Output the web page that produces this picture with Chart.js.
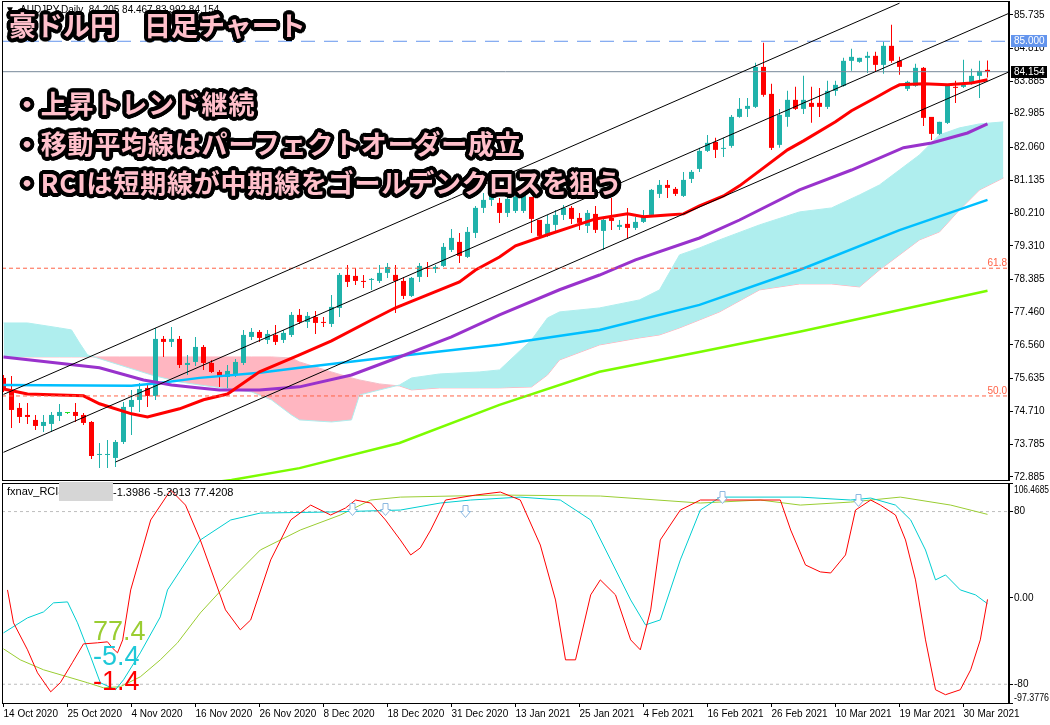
<!DOCTYPE html>
<html lang="ja">
<head>
<meta charset="utf-8">
<title>AUDJPY Daily</title>
<script src="https://cdn.jsdelivr.net/npm/chart.js@4.4.1/dist/chart.umd.min.js"></script>
<style>
  html, body { margin:0; padding:0; background:#fff; }
  body { width:1050px; height:725px; position:relative; overflow:hidden; }
  canvas { position:absolute; left:0; display:block; }
  #mainCanvas { top:0; }
  #rciCanvas { top:481px; }
  .jp { position:absolute; font-family:"Noto Sans CJK JP","Noto Sans CJK SC",sans-serif; font-weight:700; color:#FFC0CB; white-space:nowrap; line-height:1; }
</style>
</head>
<body>
<canvas id="mainCanvas" width="1050" height="481"></canvas>
<canvas id="rciCanvas" width="1050" height="244"></canvas>
<div class="jp" id="t0" style="left:9px;top:11px;font-size:27px;">豪ドル円　日足チャート</div>
<div class="jp" id="t1" style="left:14px;top:90px;font-size:26px;letter-spacing:0.8px;">・上昇トレンド継続</div>
<div class="jp" id="t2" style="left:14px;top:130px;font-size:26px;letter-spacing:0.8px;">・移動平均線はパーフェクトオーダー成立</div>
<div class="jp" id="t3" style="left:14px;top:169px;font-size:26px;letter-spacing:0.8px;">・RCIは短期線が中期線をゴールデンクロスを狙う</div>
<script>
// ---------------- DATA ----------------
const opens = [75.638,75.304,74.804,74.609,74.470,74.303,74.359,74.581,74.664,74.692,
74.609,74.414,73.496,73.496,73.413,73.858,74.832,75.026,75.360,75.137,
76.723,76.640,76.723,75.999,76.083,76.500,76.055,75.805,75.666,75.721,
76.055,76.778,76.917,76.695,76.834,76.695,76.834,77.391,77.196,77.335,
77.196,77.140,77.585,78.503,78.475,78.336,78.364,78.336,78.559,78.503,
78.336,77.919,78.447,78.698,78.670,78.753,79.198,79.421,79.004,79.671,
80.367,80.589,80.506,80.227,80.283,80.283,80.672,80.033,79.588,79.894,
80.171,80.367,80.088,79.866,80.199,79.727,80.088,79.838,79.922,79.810,
79.977,80.171,80.756,81.006,80.895,80.700,81.173,81.451,81.952,82.202,
82.008,82.091,82.897,83.120,83.176,84.288,83.537,82.119,82.897,83.371,
83.120,83.287,83.287,83.176,83.621,83.760,84.456,84.428,84.539,84.595,
84.344,84.873,84.456,83.677,83.760,84.261,82.897,82.425,82.731,83.732,
83.732,83.816,84.038,84.205];
const highs = [75.721,75.694,74.943,74.943,74.609,74.609,74.692,74.915,74.692,74.943,
74.664,74.442,73.830,73.913,73.913,74.970,75.304,75.499,75.499,77.029,
76.806,77.057,76.806,76.278,76.778,76.556,76.139,75.861,75.999,76.166,
76.973,77.029,76.973,76.973,77.112,76.973,77.474,77.557,77.474,77.502,
77.335,77.947,78.559,78.781,78.698,78.503,78.420,78.781,78.837,78.781,
78.447,78.447,78.837,78.865,78.781,79.393,79.783,79.671,79.838,80.422,
80.784,80.951,80.645,80.728,80.728,80.812,80.672,80.033,80.171,80.311,
80.450,80.422,80.227,80.311,80.422,80.116,80.645,80.033,80.367,80.116,
80.311,80.895,81.145,81.145,80.951,81.368,81.423,82.036,82.397,82.314,
82.314,82.953,83.426,83.426,84.400,84.956,83.816,83.120,83.621,83.732,
84.038,83.732,83.704,83.899,83.899,84.539,84.789,84.539,84.706,84.706,
84.984,85.457,84.567,83.900,84.372,84.288,82.897,82.759,83.788,83.899,
84.483,84.233,84.456,84.467];
const lows = [75.249,74.247,74.387,74.359,74.191,74.136,74.136,74.442,74.637,74.414,
74.331,73.385,73.134,73.134,73.162,73.802,74.052,74.692,74.832,75.026,
76.222,76.500,75.916,75.721,75.972,75.861,75.777,75.388,75.360,75.666,
75.999,76.695,76.640,76.584,76.556,76.612,76.778,77.140,77.029,76.862,
77.057,77.057,77.335,78.169,78.225,78.141,78.086,78.280,78.420,77.446,
77.836,77.891,78.308,78.447,78.559,78.725,79.143,78.837,78.976,79.532,
80.227,80.422,79.950,80.116,80.227,80.227,79.671,79.532,79.560,79.671,
80.033,79.922,79.755,79.671,79.671,79.198,79.755,79.755,79.532,79.755,
79.950,80.116,80.645,80.645,80.700,80.672,81.062,81.368,81.924,81.757,
81.785,82.036,82.870,82.897,83.148,83.454,81.980,82.036,82.620,83.092,
82.981,82.731,82.897,83.120,83.482,83.732,84.177,84.400,84.121,84.149,
84.094,84.400,84.066,83.620,83.732,82.647,82.258,82.397,82.703,83.287,
83.704,83.788,83.426,83.992];
const closes = [75.360,74.748,74.553,74.553,74.303,74.414,74.609,74.692,74.664,74.581,
74.387,73.468,73.524,73.524,73.858,74.832,75.026,75.332,75.137,76.723,
76.640,76.723,75.999,76.055,76.500,76.055,75.805,75.694,75.833,76.083,
76.834,76.917,76.751,76.862,76.640,76.890,77.391,77.196,77.363,77.168,
77.168,77.613,78.503,78.308,78.336,78.308,78.392,78.559,78.725,78.336,
77.919,78.420,78.753,78.670,78.725,79.282,79.532,79.032,79.699,80.367,
80.589,80.812,80.227,80.617,80.672,80.700,80.060,79.588,79.922,80.171,
80.367,80.060,79.950,80.227,79.755,80.033,80.005,79.894,79.810,79.977,
80.144,80.867,81.006,80.923,80.756,81.145,81.368,81.952,82.175,81.980,
82.036,82.897,83.120,83.203,84.288,83.510,82.036,82.953,83.371,83.120,
83.371,83.176,83.176,83.621,83.788,84.456,84.567,84.539,84.595,84.344,
84.873,84.456,84.288,83.871,84.261,82.870,82.425,82.759,83.760,83.704,
83.788,84.038,84.177,84.154];

// Moving averages (bar index, price)
const maRedX   = [0,3,10,12,16,18,22,25,28,32,37,41,46,49,53,57,59,62,64,68,71,74,78,80,83,85,87,90,92,95,98,100,104,106,109,111,112,115,118,121,123];
const maRed    = [75.33,75.19,75.14,74.92,74.64,74.55,74.78,75.03,75.19,75.81,76.28,76.67,77.25,77.59,77.95,78.31,78.64,79.00,79.31,79.62,79.84,80.06,80.20,80.12,80.17,80.20,80.42,80.70,80.98,81.48,81.98,82.23,82.76,83.07,83.43,83.68,83.79,83.82,83.79,83.84,83.93];
const maPurpleX = [0,12,17.5,21,24.5,27,32,37,43.5,49.5,56,62,69.5,74.5,79,87,92,99.5,106,112.5,116,120.5,123];
const maPurple  = [76.22,75.92,75.58,75.44,75.36,75.30,75.30,75.39,75.72,76.22,76.78,77.39,78.09,78.50,78.92,79.53,80.03,80.87,81.42,82.04,82.17,82.45,82.70];
const maBlueX = [0,16,19.5,24.5,32,37,49.5,62,74.5,87,99.5,112,123];
const maBlue  = [75.44,75.42,75.50,75.64,75.78,75.92,76.25,76.56,76.97,77.67,78.64,79.75,80.59];
const maGreenX = [25,28.5,37,49.5,62,74.5,87,99.5,112,123];
const maGreen  = [72.70,72.80,73.13,73.83,74.89,75.81,76.36,76.92,77.53,78.06];

// Ichimoku cloud spans (bar index, price)
const cloudX = [0,3,7,8.5,9.5,10.5,14.5,18.5,22,24.5,31,33.5,36,37,41,43.5,44.5,47,49.5,51,54.5,59.5,62,66,68,69.5,74.5,79.5,82,84.5,87,89.5,94.5,99.5,103.5,107,109.5,112,114.5,117,119.5,122,125];
const spanA = [77.167,77.167,77.029,76.973,76.611,76.278,76.000,75.721,75.527,75.443,75.248,75.026,74.609,74.470,74.414,74.470,75.165,75.304,75.443,75.638,75.749,75.805,75.861,76.695,77.307,77.474,77.585,77.808,78.086,79.059,79.254,79.477,79.894,80.255,80.366,80.728,81.006,81.423,81.841,82.397,82.592,82.703,82.759];
const spanB = [76.222,76.222,76.222,76.222,76.222,76.222,76.222,76.222,76.222,76.222,76.222,76.222,76.194,76.083,75.805,75.638,75.582,75.471,75.415,75.304,75.360,75.360,75.360,75.388,75.721,76.138,76.556,76.751,76.834,77.029,77.251,77.474,78.086,78.252,78.252,78.169,78.642,79.059,79.477,79.699,80.311,80.867,81.201];

// Channel trend lines [bar index, price]
const channelUpper = [[0, 75.18], [112, 86.06]];
const channelMid   = [[0, 73.57], [125.7, 85.78]];
const channelLow   = [[14, 73.30], [125.7, 84.15]];
// Horizontal levels
const fib618 = 78.689, fib500 = 75.137, roundLevel = 85.000, lastPrice = 84.154;

// Price axis
const priceTicks = [85.735,84.810,83.885,82.985,82.060,81.135,80.210,79.310,78.385,77.460,76.560,75.635,74.710,73.785,72.885];
const PRICE_MIN = 72.80, PRICE_MAX = 86.12;
// Time axis
const X_MIN = -0.1875, X_MAX = 125.6875;
const dateTickIdx = [0,8,16,24,32,40,48,56,64,72,80,88,96,104,112,120];
const dateLabels = ['14 Oct 2020','25 Oct 2020','4 Nov 2020','16 Nov 2020','26 Nov 2020','8 Dec 2020','18 Dec 2020','31 Dec 2020','13 Jan 2021','25 Jan 2021','4 Feb 2021','16 Feb 2021','26 Feb 2021','10 Mar 2021','19 Mar 2021','30 Mar 2021'];

// RCI sub-window
const RCI_MIN = -97.3776, RCI_MAX = 106.4685;
const rciLevels = [80, -80];
const rciShortX = [0.5,1.25,3,4.25,5.9,7.1,8.6,10,11.75,13,13.6,14.25,14.9,15.9,18.4,20.9,22.75,24.6,27.75,29.6,30.9,33.4,35.9,38.4,40.9,42.75,44,45.9,47.75,49.6,50.9,52.1,53.4,55.25,59,62.1,64.6,67.1,69,70.25,71.5,73.4,74.6,76.5,78.4,79.6,80.9,82.1,84.6,87.1,97.1,98.4,100.25,102.1,103.4,105.25,106.5,108.4,109.6,111.5,112.75,114,115.25,116.5,117.75,119.6,120.9,122.1,123];
const rciShort  = [7.4,-23.1,-48.1,-69.4,-87,-78.6,-60.1,-42.6,-41.6,-40.7,-46.3,-50.9,-38.9,7.4,72.2,99.9,86,53.7,-11.1,-29.6,-20.4,35.2,72.2,86,76.8,83.3,90.7,87.9,72.2,53.7,39.8,46.3,62.9,90.7,95.3,98.1,90.7,49,-1.9,-57.4,-57.4,2.8,16.7,2.8,-38.9,-48.1,-11.1,53.7,81.4,90.7,90.7,62.9,30.5,24.1,23.1,39.8,81.4,90.7,86,76.8,53.7,16.7,-38.9,-85.1,-89.7,-85.1,-66.6,-38.9,-1.4];
const rciMidX = [0,3,5,6.25,8,9.25,10.9,12.1,14,15,17.1,19.6,20.5,24.6,28.4,32.1,40.9,49.6,54.6,58.4,64.6,69.6,73.4,75.9,78.4,80.25,82.1,84.6,87.1,89.6,99.6,105.9,108.4,111.5,113.4,115.25,116.5,117.75,119.6,121.5,123];
const rciMid  = [-32.4,-18.5,-13,-4.6,-3.7,-23.1,-54.6,-78.6,-85.1,-75.9,-50.9,-17.6,7.4,53.7,72.2,78.6,79.6,81.4,87.9,90.7,93.4,90.7,72.2,35.2,-1.9,-25,-20.4,35.2,81.4,93.4,93.4,90.7,92.5,86,72.2,44.4,16.7,21.3,7.4,2.8,-5.4];
const rciLongX = [0,2.1,5,8,10.5,12.5,14.6,17.1,19.6,21.75,24.6,28.4,32.1,37.1,42.1,45.9,49.6,62.1,74.6,87.1,94.6,99.6,105.9,112.1,118.4,123];
const rciLong  = [-47.2,-57.4,-66.6,-73.1,-78.6,-83.3,-82.3,-73.1,-57.4,-41.6,-13.9,16.7,44.4,62.9,76.8,90.7,93.4,95.3,94.4,87.9,90.7,86,88.8,93.4,86,77.4];
const rciLast = ['-1.3986','-5.3913','77.4208'];
const rciBig  = ['77.4','-5.4','-1.4'];
const arrowIdx = [43.6,47.7,57.7,89.8,106.8];
const arrowVal = [82.3,82.3,80.5,93.4,90.7];

// ---------------- STYLE / HELPERS ----------------
const BULL = '#20B2AA', BEAR = '#FF0000', DOJI = '#22DD22';
const FONT = 'Liberation Sans';
const AXIS_FONT = {family:FONT, size:10};
const AXIS_FONT_STR = '10px ' + FONT;
Chart.defaults.font.family = FONT;
Chart.defaults.font.size = 10;
Chart.defaults.color = '#000';

const toXY = (xs, ys) => xs.map((x, k) => ({x, y: ys[k]}));
const seg = (p) => p.map(([x, y]) => ({x, y}));
const hline = (y) => [{x: X_MIN, y}, {x: X_MAX, y}];
const candleIdx = opens.map((_, i) => i);
const candleColor = candleIdx.map(i => closes[i] > opens[i] ? BULL : (closes[i] < opens[i] ? BEAR : DOJI));

function lineDs(data, color, width, order, extra) {
  return Object.assign({type:'line', data, borderColor:color, borderWidth:width, pointRadius:0, fill:false, tension:0, order}, extra || {});
}

const xScaleCommon = { type:'linear', min:X_MIN, max:X_MAX, offset:false };

// ---------------- MAIN CHART ----------------
const mainOverlay = {
  id:'mainOverlay',
  afterDraw(chart) {
    const {ctx, chartArea:a, scales:{y}} = chart;
    ctx.save();
    ctx.strokeStyle = '#000'; ctx.lineWidth = 1;
    ctx.strokeRect(a.left + 0.5, a.top + 0.5, a.right - a.left - 1, a.bottom - a.top);
    ctx.fillStyle = '#000';
    ctx.font = '10px ' + FONT;
    ctx.textBaseline = 'middle';
    ctx.fillText('▼', 5, 10);
    ctx.fillText('AUDJPY,Daily  84.205 84.467 83.992 84.154', 20, 10);
    ctx.fillStyle = '#FF6347';
    ctx.textAlign = 'right'; ctx.textBaseline = 'alphabetic';
    ctx.fillText('61.8', a.right - 2, y.getPixelForValue(fib618) - 2);
    ctx.fillText('50.0', a.right - 2, y.getPixelForValue(fib500) - 2);
    ctx.textAlign = 'left'; ctx.textBaseline = 'middle';
    ctx.font = AXIS_FONT_STR;
    const box = (v, bg) => {
      const py = Math.round(y.getPixelForValue(v));
      ctx.fillStyle = bg;
      ctx.fillRect(a.right + 2, py - 6, 36, 12);
      ctx.fillStyle = '#fff';
      ctx.fillText(v.toFixed(3), a.right + 5, py, 32);
    };
    box(roundLevel, '#6495ED');
    box(lastPrice, '#000');
    ctx.restore();
  }
};

new Chart(document.getElementById('mainCanvas'), {
  type:'line',
  data:{ datasets:[
    lineDs(toXY(cloudX, spanB), '#FFB6C1', 1, 30),
    lineDs(toXY(cloudX, spanA), '#AFEEEE', 1, 29, {fill:{target:'-1', above:'#AFEEEE', below:'#FFB6C1'}}),
    {type:'bar', data: candleIdx.map(i => ({x:i, y:[lows[i], highs[i]]})), backgroundColor:candleColor, barThickness:1, grouped:false, inflateAmount:0, borderWidth:0, order:12},
    {type:'bar', data: candleIdx.map(i => ({x:i, y:[opens[i], closes[i]]})), backgroundColor:candleColor, barThickness:5, minBarLength:1, grouped:false, inflateAmount:0, borderWidth:0, order:11},
    lineDs(toXY(maGreenX, maGreen), '#7CFC00', 2.5, 8),
    lineDs(toXY(maBlueX, maBlue), '#00BFFF', 2.5, 7),
    lineDs(toXY(maPurpleX, maPurple), '#9932CC', 3, 6),
    lineDs(toXY(maRedX, maRed), '#FF0000', 3, 5),
    lineDs(hline(fib618), '#FF6347', 1, 3, {borderDash:[4,3]}),
    lineDs(hline(fib500), '#FF6347', 1, 3, {borderDash:[4,3]}),
    lineDs(hline(roundLevel), '#6495ED', 1, 3, {borderDash:[14,9]}),
    lineDs(hline(lastPrice), '#778899', 1, 3),
    lineDs(seg(channelUpper), '#000', 1, 2),
    lineDs(seg(channelMid), '#000', 1, 2),
    lineDs(seg(channelLow), '#000', 1, 2),
  ]},
  options:{
    responsive:false, animation:false, devicePixelRatio:1, events:[],
    layout:{ padding:{left:2, top:1, right:0, bottom:1} },
    plugins:{ legend:{display:false}, tooltip:{enabled:false} },
    scales:{
      x: Object.assign({}, xScaleCommon, { display:false }),
      y: {
        type:'linear', position:'right', min:PRICE_MIN, max:PRICE_MAX,
        afterBuildTicks: s => { s.ticks = priceTicks.map(v => ({value:v})); },
        afterFit: s => { s.width = 41; s.paddingTop = 0; s.paddingBottom = 0; },
        ticks:{ autoSkip:false, padding:1, callback: v => Number(v).toFixed(3), font:AXIS_FONT, color:'#000' },
        grid:{ drawOnChartArea:false, tickLength:4, color:'#000' },
        border:{ display:true, color:'#000' }
      }
    }
  },
  plugins:[mainOverlay]
});

// ---------------- RCI CHART ----------------
const rciOverlay = {
  id:'rciOverlay',
  afterDraw(chart) {
    const {ctx, chartArea:a, scales:{x, y}} = chart;
    ctx.save();
    ctx.strokeStyle = '#000'; ctx.lineWidth = 1;
    ctx.strokeRect(a.left + 0.5, a.top + 0.5, a.right - a.left - 1, a.bottom - a.top);
    ctx.font = '11px ' + FONT;
    ctx.textBaseline = 'middle';
    ctx.fillStyle = '#000';
    ctx.fillText('fxnav_RCI3', 7, 11);
    ctx.fillStyle = '#D6D6D6';
    ctx.fillRect(59, 1, 54, 19);
    ctx.fillStyle = '#000';
    ctx.fillText(rciLast.join(' '), 113, 12);
    ctx.font = AXIS_FONT_STR;
    ctx.fillText(RCI_MAX.toFixed(4), a.right + 5, a.top + 7, 35);
    ctx.fillText(RCI_MIN.toFixed(4), a.right + 5, a.bottom - 5, 35);
    ctx.font = '27px ' + FONT;
    ctx.textBaseline = 'alphabetic';
    const cols = ['#9ACD32', '#1EC8D8', '#FF0000'];
    const base = [159, 184, 209];
    rciBig.forEach((t, k) => { ctx.fillStyle = cols[k]; ctx.fillText(t, 93, base[k]); });
    ctx.strokeStyle = '#8CB8E0'; ctx.fillStyle = '#fff'; ctx.lineWidth = 1;
    arrowIdx.forEach((ix, k) => {
      const cx = Math.round(x.getPixelForValue(ix)) + 0.5, cy = Math.round(y.getPixelForValue(arrowVal[k])) + 0.5;
      ctx.beginPath();
      ctx.moveTo(cx - 2.5, cy - 6); ctx.lineTo(cx + 2.5, cy - 6); ctx.lineTo(cx + 2.5, cy);
      ctx.lineTo(cx + 5, cy); ctx.lineTo(cx, cy + 6); ctx.lineTo(cx - 5, cy); ctx.lineTo(cx - 2.5, cy);
      ctx.closePath(); ctx.fill(); ctx.stroke();
    });
    ctx.restore();
  }
};

new Chart(document.getElementById('rciCanvas'), {
  type:'line',
  data:{ datasets:[
    lineDs(hline(rciLevels[0]), '#BDBDBD', 1, 9, {borderDash:[3,3]}),
    lineDs(hline(rciLevels[1]), '#BDBDBD', 1, 9, {borderDash:[3,3]}),
    lineDs(toXY(rciLongX, rciLong), '#9ACD32', 1, 4),
    lineDs(toXY(rciMidX, rciMid), '#00CED1', 1, 3),
    lineDs(toXY(rciShortX, rciShort), '#FF0000', 1, 2),
  ]},
  options:{
    responsive:false, animation:false, devicePixelRatio:1, events:[],
    layout:{ padding:{left:2, top:2, right:0, bottom:0} },
    plugins:{ legend:{display:false}, tooltip:{enabled:false} },
    scales:{
      x: Object.assign({}, xScaleCommon, {
        afterBuildTicks: s => { s.ticks = dateTickIdx.map(v => ({value:v})); },
        afterFit: s => { s.height = 22; s.paddingLeft = 0; s.paddingRight = 0; },
        ticks:{ autoSkip:false, maxRotation:0, minRotation:0, align:'start', padding:1,
          callback: v => { const k = dateTickIdx.indexOf(v); return k >= 0 ? dateLabels[k] : ''; },
          font:{family:FONT, size:10}, color:'#000' },
        grid:{ drawOnChartArea:false, tickLength:4, color:'#000' },
        border:{ display:true, color:'#000' }
      }),
      y: {
        type:'linear', position:'right', min:RCI_MIN, max:RCI_MAX,
        afterBuildTicks: s => { s.ticks = [RCI_MAX, 80, 0, -80, RCI_MIN].map(v => ({value:v})); },
        afterFit: s => { s.width = 41; s.paddingTop = 0; s.paddingBottom = 0; },
        ticks:{ autoSkip:false, padding:1, font:AXIS_FONT, color:'#000',
          callback: v => v === 80 ? '80' : (v === 0 ? '0.00' : (v === -80 ? '-80' : '')) },
        grid:{ drawOnChartArea:false, tickLength:4, color:'#000' },
        border:{ display:true, color:'#000' }
      }
    }
  },
  plugins:[rciOverlay]
});

// ---------------- TEXT OUTLINES ----------------
function outline(el, rings) {
  const s = [];
  rings.forEach(r => { for (let a = 0; a < 360; a += 15) { const t = a * Math.PI / 180; s.push(`${(r * Math.cos(t)).toFixed(2)}px ${(r * Math.sin(t)).toFixed(2)}px 0 #000`); } });
  el.style.textShadow = s.join(',');
}
['t0','t1','t2','t3'].forEach(id => outline(document.getElementById(id), [1.5, 3, 4]));
</script>
</body>
</html>
